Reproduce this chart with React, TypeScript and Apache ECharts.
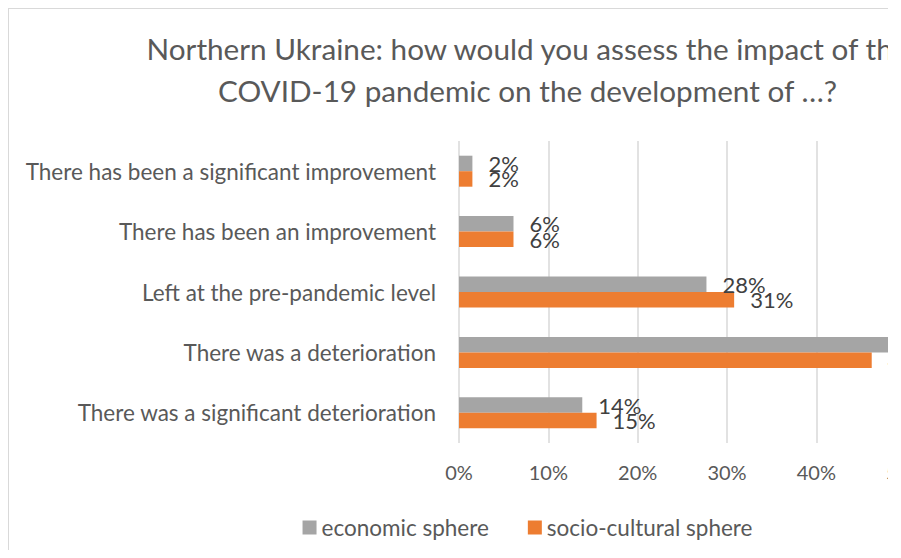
import React, { useEffect, useRef } from "react";
import * as echarts from "echarts";

const titleLines = [
  "Northern Ukraine: how would you assess the impact of the",
  "COVID-19 pandemic on the development of …?",
];
const categories = [
  "There has been a significant improvement",
  "There has been an improvement",
  "Left at the pre-pandemic level",
  "There was a deterioration",
  "There was a significant deterioration",
];
const seriesNames = ["economic sphere", "socio-cultural sphere"];
const economic = [1.5, 6.1, 27.7, 50.5, 13.8];
const socioCultural = [1.5, 6.1, 30.8, 46.2, 15.4];
const xMin = 0;
const xMax = 60;
const xStep = 10;

const FONT = "Lato";

export default function App() {
  const ref = useRef<HTMLDivElement>(null);
  useEffect(() => {
    document.body.style.overflow = "hidden";
    const chart = echarts.init(ref.current!, undefined, { renderer: "svg" });
    const label = {
      show: true,
      position: "right",
      distance: 16,
      color: "#404040",
      fontFamily: FONT,
      fontSize: 22,
      formatter: (p: any) => Math.round(p.value) + "%",
    };
    chart.setOption({
      animation: false,
      textStyle: { fontFamily: FONT },
      title: {
        text: titleLines.join("\n"),
        left: "center",
        top: 18,
        padding: 0,
        textStyle: {
          fontFamily: FONT,
          fontSize: 29.7,
          fontWeight: "normal",
          color: "#595959",
          lineHeight: 42,
        },
      },
      legend: {
        top: 507,
        left: "center",
        padding: 0,
        itemWidth: 14,
        itemHeight: 14,
        itemGap: 39,
        icon: "rect",
        textStyle: { fontFamily: FONT, fontSize: 22.5, color: "#595959" },
        data: seriesNames,
      },
      grid: { left: 450, top: 132, width: 536, height: 302, containLabel: false },
      xAxis: {
        type: "value",
        min: xMin,
        max: xMax,
        interval: xStep,
        axisLine: { show: false },
        axisTick: { show: false },
        splitLine: { lineStyle: { color: "#d9d9d9", width: 1.5 } },
        axisLabel: {
          formatter: "{value}%",
          margin: 19,
          color: "#595959",
          fontFamily: FONT,
          fontSize: 20,
        },
      },
      yAxis: {
        type: "category",
        inverse: true,
        data: categories,
        axisLine: { show: false },
        axisTick: { show: false },
        axisLabel: {
          margin: 23,
          color: "#595959",
          fontFamily: FONT,
          fontSize: 22.5,
        },
      },
      series: [
        {
          name: seriesNames[0],
          type: "bar",
          data: economic,
          barWidth: 15.5,
          barGap: "0%",
          itemStyle: { color: "#A5A5A5" },
          label,
        },
        {
          name: seriesNames[1],
          type: "bar",
          data: socioCultural,
          barWidth: 15.5,
          barGap: "0%",
          itemStyle: { color: "#ED7D31" },
          label,
        },
      ],
    });
    return () => chart.dispose();
  }, []);
  return (
    <div
      style={{
        width: 880,
        height: 550,
        marginBottom: -8,
        overflow: "hidden",
        boxSizing: "border-box",
        borderTop: "1px solid #d9d9d9",
        borderLeft: "1px solid #d9d9d9",
        background: "#fff",
      }}
    >
      <div ref={ref} style={{ width: 1037, height: 560 }} />
    </div>
  );
}
